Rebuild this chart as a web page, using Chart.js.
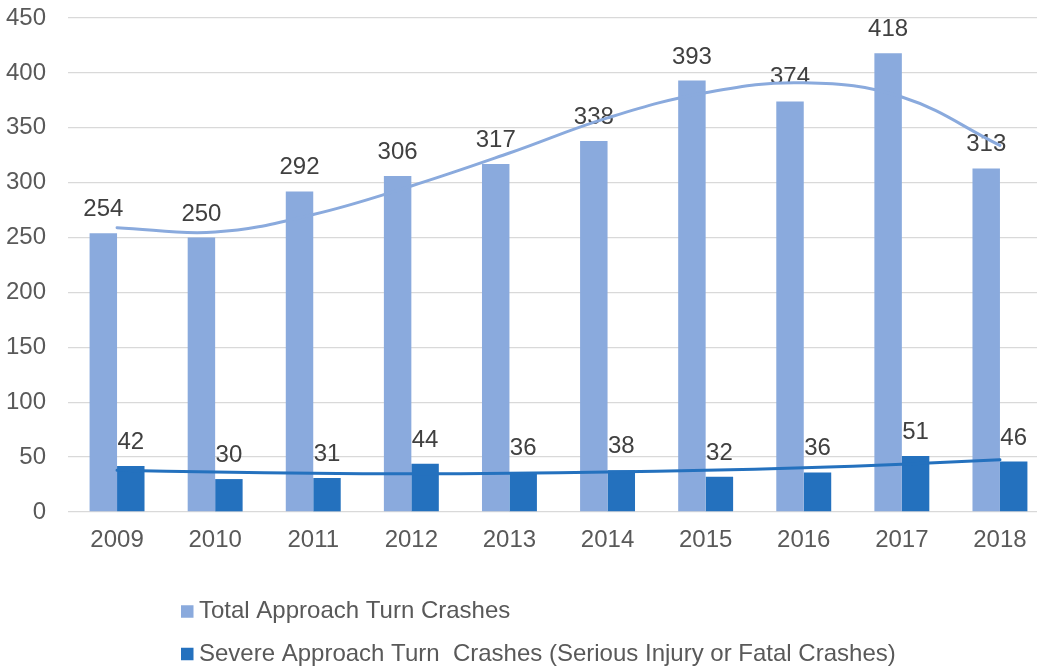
<!DOCTYPE html>
<html>
<head>
<meta charset="utf-8">
<title>Approach Turn Crashes</title>
<script src="https://cdn.jsdelivr.net/npm/chart.js@4/dist/chart.umd.min.js"></script>
<style>
  html, body { margin: 0; padding: 0; background: #ffffff; overflow: hidden; }
  #wrap { position: relative; width: 1049px; height: 671px; }
</style>
</head>
<body>
<div id="wrap">
  <canvas id="crashChart" width="1049" height="671"></canvas>
</div>
<script>
// Chart data
const years = ['2009', '2010', '2011', '2012', '2013', '2014', '2015', '2016', '2017', '2018'];
const totalCrashes = [254, 250, 292, 306, 317, 338, 393, 374, 418, 313];
const severeCrashes = [42, 30, 31, 44, 36, 38, 32, 36, 51, 46];
// trend lines (polynomial in the original), sampled at each year
const totalTrend = [259, 255, 271, 297, 327, 359, 382, 391, 378, 334];
const severeTrend = [38, 36.4, 35.2, 34.8, 35.3, 36.4, 38, 40.3, 43.5, 47.6];
const yTicks = [0, 50, 100, 150, 200, 250, 300, 350, 400, 450];

const seriesNames = [
  'Total Approach Turn Crashes',
  'Severe Approach Turn  Crashes (Serious Injury or Fatal Crashes)'
];

const lightBlue = '#8AAADD';
const darkBlue = '#2471BE';
const font = '"Liberation Sans", Arial, sans-serif';
const fontSize = 24;

// Data labels drawn right after each bar dataset (so trend lines sit on top)
const barLabels = {
  id: 'barLabels',
  afterDatasetDraw(chart, args) {
    const ds = chart.data.datasets[args.index];
    if (ds.type !== 'bar') return;
    const ctx = chart.ctx;
    ctx.save();
    ctx.font = fontSize + 'px ' + font;
    ctx.fillStyle = '#404040';
    ctx.textAlign = 'center';
    ctx.textBaseline = 'alphabetic';
    args.meta.data.forEach((bar, i) => {
      ctx.fillText(String(ds.data[i]), bar.x, bar.y - 17);
    });
    ctx.restore();
  }
};

// Legend: two left-aligned rows under the axis
const rowLegend = {
  id: 'rowLegend',
  afterDraw(chart) {
    const ctx = chart.ctx;
    const rows = [611.5, 654];
    ctx.save();
    ctx.font = fontSize + 'px ' + font;
    ctx.textBaseline = 'middle';
    ctx.textAlign = 'left';
    chart.data.datasets.filter(d => d.type === 'bar').forEach((d, i) => {
      ctx.fillStyle = d.backgroundColor;
      ctx.fillRect(181, rows[i] - 6.25, 12.5, 12.5);
      ctx.fillStyle = '#595959';
      ctx.fillText(d.label, 199, rows[i]);
    });
    ctx.restore();
  }
};

const ctx = document.getElementById('crashChart').getContext('2d');
new Chart(ctx, {
  data: {
    labels: years,
    datasets: [
      {
        type: 'line',
        label: 'Total trend',
        data: totalTrend,
        borderColor: lightBlue,
        borderWidth: 3,
        pointRadius: 0,
        tension: 0.4,
        borderCapStyle: 'round',
        fill: false,
        order: 0
      },
      {
        type: 'line',
        label: 'Severe trend',
        data: severeTrend,
        borderColor: darkBlue,
        borderWidth: 3,
        pointRadius: 0,
        tension: 0.4,
        borderCapStyle: 'round',
        fill: false,
        order: 0
      },
      {
        type: 'bar',
        label: seriesNames[0],
        data: totalCrashes,
        backgroundColor: lightBlue,
        categoryPercentage: 0.56,
        barPercentage: 1,
        order: 1
      },
      {
        type: 'bar',
        label: seriesNames[1],
        data: severeCrashes,
        backgroundColor: darkBlue,
        categoryPercentage: 0.56,
        barPercentage: 1,
        order: 1
      }
    ]
  },
  options: {
    responsive: false,
    animation: false,
    layout: { padding: { top: 18, left: 0, right: 0, bottom: 0 } },
    plugins: {
      legend: { display: false },
      tooltip: { enabled: false }
    },
    scales: {
      x: {
        grid: { display: false, drawTicks: false },
        border: { display: false },
        ticks: {
          color: '#595959',
          font: { family: font, size: fontSize },
          padding: 14
        },
        afterFit(scale) { scale.height = 671 - 512; }
      },
      y: {
        min: 0,
        max: 450,
        afterBuildTicks(scale) { scale.ticks = yTicks.map(v => ({ value: v })); },
        // invisible tick marks keep the labels 22px off the plot
        grid: { color: '#D9D9D9', lineWidth: 1.3, drawTicks: true, tickLength: 22, tickColor: 'rgba(0,0,0,0)' },
        border: { display: false },
        ticks: {
          color: '#595959',
          font: { family: font, size: fontSize },
          padding: 0
        },
        afterFit(scale) { scale.width = 68; }
      }
    }
  },
  plugins: [barLabels, rowLegend]
});
</script>
</body>
</html>
